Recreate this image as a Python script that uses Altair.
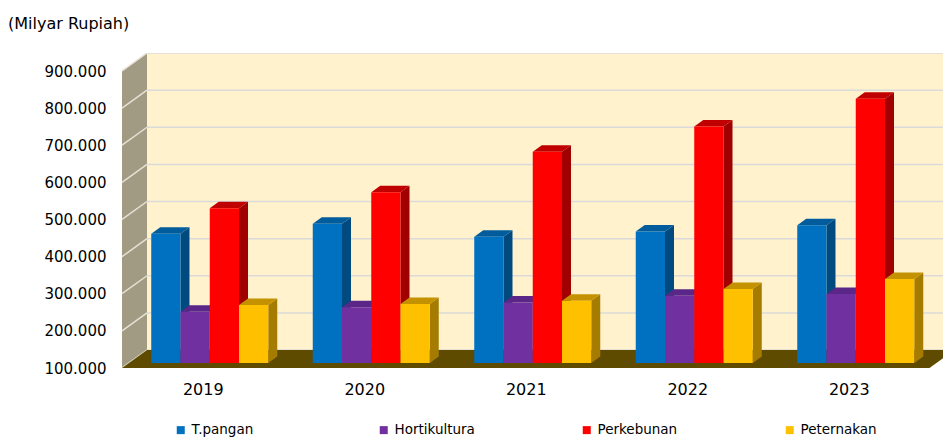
import altair as alt
import pandas as pd

# ---------------- data ----------------
years = ["2019", "2020", "2021", "2022", "2023"]
series = ["T.pangan", "Hortikultura", "Perkebunan", "Peternakan"]
t_pangan = [448000, 475000, 440000, 454000, 471000]
hortikultura = [238000, 250000, 263000, 281000, 286000]
perkebunan = [517000, 560000, 669000, 737000, 812000]
peternakan = [256000, 259000, 268000, 299000, 326000]
y_ticks = [100000, 200000, 300000, 400000, 500000, 600000, 700000, 800000, 900000]
unit_label = "(Milyar Rupiah)"

values = [t_pangan, hortikultura, perkebunan, peternakan]

# ---------------- style ----------------
front_colors = ["#0070C0", "#7030A0", "#FF0000", "#FFC000"]
side_colors = ["#004A80", "#4B2070", "#A00000", "#A67C00"]
top_colors = ["#005C9C", "#5A2788", "#C00000", "#C49200"]
wall_color = "#FFF2CC"
side_wall_color = "#A29B83"
floor_color = "#5F4B00"
grid_color = "#DADADA"
FONT = "DejaVu Sans"

W, H = 821, 315          # plot area (px)
LEFT, TOP = 122, 53      # padding (px)
PX_X = 161.5             # px per category
PX_Y = 0.37125 / 1000    # px per value unit
BASE = y_ticks[0]
TOPV = y_ticks[-1]
x_dom = [-0.5, -0.5 + W / PX_X]
y_dom = [BASE, BASE + H / PX_Y]
wall_dx, wall_dy = 25 / PX_X, 18 / PX_Y
plane_dx, plane_dy = 7 / PX_X, 5 / PX_Y
bar_dx, bar_dy = 9 / PX_X, 6.5 / PX_Y
bar_w = 29.25 / PX_X
group_w = bar_w * len(series)

# ---------------- derived geometry tables ----------------
fronts, sides, tops = [], [], []
for i, yr in enumerate(years):
    for j, s in enumerate(series):
        v = values[j][i]
        xl = i - group_w / 2 + j * bar_w + plane_dx
        xr = xl + bar_w
        y0 = BASE + plane_dy
        y1 = v + plane_dy
        bid = f"{yr}-{s}"
        fronts.append(dict(x=xl, x2=xr, y=y0, y2=y1, series=s, year=yr, value=v))
        sides.append(dict(id=bid, x=xr, y=y0, y2=y1, fill=side_colors[j]))
        sides.append(dict(id=bid, x=xr + bar_dx, y=y0 + bar_dy, y2=y1 + bar_dy, fill=side_colors[j]))
        tops.append(dict(id=bid, y=y1, x=xl, x2=xr, fill=top_colors[j]))
        tops.append(dict(id=bid, y=y1 + bar_dy, x=xl + bar_dx, x2=xr + bar_dx, fill=top_colors[j]))

fronts = pd.DataFrame(fronts)
sides = pd.DataFrame(sides)
tops = pd.DataFrame(tops)

x_lo, x_hi = -0.5, len(years) - 0.5
back_wall = pd.DataFrame([dict(x=x_lo + wall_dx, x2=x_hi + wall_dx, y=BASE + wall_dy, y2=TOPV + wall_dy)])
back_grid = pd.DataFrame([dict(x=x_lo + wall_dx, x2=x_hi + wall_dx, y=t + wall_dy) for t in y_ticks])
side_wall = pd.DataFrame([
    dict(x=x_lo, y=BASE, y2=TOPV),
    dict(x=x_lo + wall_dx, y=BASE + wall_dy, y2=TOPV + wall_dy),
])
side_grid = pd.DataFrame(
    [dict(id=t, x=x_lo, y=t) for t in y_ticks] +
    [dict(id=t, x=x_lo + wall_dx, y=t + wall_dy) for t in y_ticks]
)
floor = pd.DataFrame([
    dict(y=BASE, x=x_lo, x2=x_hi),
    dict(y=BASE + wall_dy, x=x_lo + wall_dx, x2=x_hi + wall_dx),
])

xscale = alt.Scale(domain=x_dom, nice=False, zero=False)
yscale = alt.Scale(domain=y_dom, nice=False, zero=False)

year_expr = "[" + ",".join(f"'{y}'" for y in years) + "][datum.value]"
x_axis = alt.Axis(values=list(range(len(years))), labelExpr=year_expr, grid=False, ticks=False,
                  domain=False, title=None, labelFont=FONT, labelFontSize=16, labelColor="#000000",
                  labelPadding=13)
y_axis = alt.Axis(values=y_ticks, labelExpr="replace(format(datum.value, ','), ',', '.')",
                  grid=False, ticks=False, domain=False, title=None, labelFont=FONT,
                  labelFontSize=15, labelColor="#000000", labelPadding=16)


def X(f="x"):
    return alt.X(f"{f}:Q", scale=xscale, axis=x_axis, title=None)


def Y(f="y"):
    return alt.Y(f"{f}:Q", scale=yscale, axis=y_axis, title=None)


wall_layer = alt.Chart(back_wall).mark_rect(color=wall_color, clip=True).encode(
    x=X(), x2="x2:Q", y=Y(), y2="y2:Q")
grid_layer = alt.Chart(back_grid).mark_rule(color=grid_color, strokeWidth=1.5, clip=True).encode(
    x=X(), x2="x2:Q", y=Y())
side_wall_layer = alt.Chart(side_wall).mark_area(color=side_wall_color, clip=True).encode(
    x=X(), y=Y(), y2="y2:Q")
side_grid_layer = alt.Chart(side_grid).mark_line(color="#E6E2D6", strokeWidth=1.5, clip=True).encode(
    x=X(), y=Y(), detail="id:N")
floor_layer = alt.Chart(floor).mark_area(color=floor_color, orient="horizontal", clip=True).encode(
    y=Y(), x=X(), x2="x2:Q")

side_layer = alt.Chart(sides).mark_area(clip=True).encode(
    x=X(), y=Y(), y2="y2:Q", detail="id:N", color=alt.Color("fill:N", scale=None))
top_layer = alt.Chart(tops).mark_area(orient="horizontal", clip=True).encode(
    y=Y(), x=X(), x2="x2:Q", detail="id:N", color=alt.Color("fill:N", scale=None))
front_layer = alt.Chart(fronts).mark_rect(clip=True).encode(
    x=X(), x2="x2:Q", y=Y(), y2="y2:Q",
    color=alt.Color("series:N", scale=alt.Scale(domain=series, range=front_colors),
                    legend=alt.Legend(title=None, orient="none", legendX=52, legendY=370,
                                      direction="horizontal", columns=4, gridAlign="all",
                                      columnPadding=105, symbolType="square", symbolSize=64,
                                      symbolStrokeWidth=0, labelFont=FONT, labelFontSize=13.5,
                                      labelColor="#000000", labelOffset=4)))

chart = alt.layer(
    wall_layer, grid_layer, side_wall_layer, side_grid_layer, floor_layer,
    side_layer, top_layer, front_layer
).resolve_scale(color="independent").properties(
    width=W, height=H,
    autosize=alt.AutoSizeParams(type="none"),
    padding={"left": LEFT, "top": TOP, "right": 0, "bottom": 437 - TOP - H},
    title=alt.TitleParams(unit_label, anchor="start", frame="group", dx=-114, offset=21,
                          font=FONT, fontSize=16, fontWeight="normal", color="#000000"),
    background="#FFFFFF",
).configure_view(stroke=None)

chart.save("out.html", embed_options={"renderer": "svg", "actions": False})
